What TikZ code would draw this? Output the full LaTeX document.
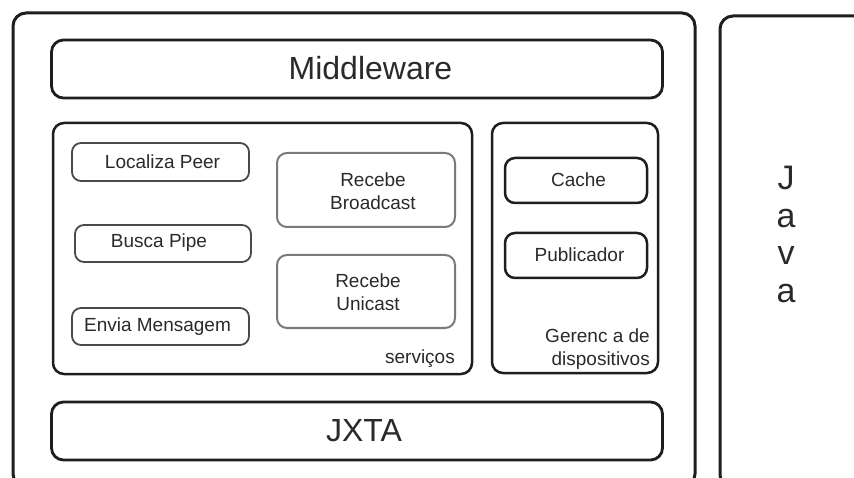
\documentclass[tikz,border=0pt]{standalone}
\usepackage{fontspec}
\setmainfont{Liberation Sans}
\definecolor{ink}{HTML}{1E1E1E}
\definecolor{txt}{HTML}{2A2A2A}
\definecolor{soft}{HTML}{7A7A7A}
\definecolor{mid}{HTML}{4A4A4A}
\begin{document}
\begin{tikzpicture}[x=1pt,y=-1pt,
  frame/.style={draw=ink, line width=3pt, rounded corners=13pt, rectangle, inner sep=0pt},
  layer/.style={draw=ink, line width=2.8pt, rounded corners=12pt, rectangle, inner sep=0pt},
  group/.style={draw=ink, line width=2.5pt, rounded corners=11pt, rectangle, inner sep=0pt},
  svc/.style={draw=mid, line width=1.8pt, rounded corners=9pt, rectangle, inner sep=0pt},
  recv/.style={draw=soft, line width=2pt, rounded corners=10pt, rectangle, inner sep=0pt},
  dev/.style={draw=ink, line width=2.5pt, rounded corners=10pt, rectangle, inner sep=0pt},
  big/.style={text=txt, font=\fontsize{32}{36}\selectfont, inner sep=0pt},
  small/.style={text=txt, font=\fontsize{19}{23}\selectfont, inner sep=0pt, align=center},
  jv/.style={text=txt, font=\fontsize{34}{38}\selectfont, inner sep=0pt, anchor=base}]
\useasboundingbox (0,0) rectangle (854,478);
\clip (0,0) rectangle (854,478);
\fill[white] (0,0) rectangle (854,478);
% outer frames
\node[frame, minimum width=682pt, minimum height=474pt] (outer) at (354,250) {};
\node[frame, minimum width=170pt, minimum height=472pt] (javabox) at (805,252) {};
% layers
\node[layer, minimum width=611pt, minimum height=58pt] (mw) at (357,69) {};
\node[big] (mwt) at (370.5,68) {Middleware};
\node[layer, minimum width=611pt, minimum height=58pt] (jx) at (357,431) {};
\node[big] (jxt) at (364,431) {JXTA};
% groups
\node[group, minimum width=419pt, minimum height=251pt] (serv) at (262.5,248.5) {};
\node[group, minimum width=166pt, minimum height=250pt] (ger) at (575,248) {};
% service boxes
\node[svc, minimum width=177pt, minimum height=38pt] (loc) at (160.5,162) {};
\node[small] (loct) at (162.5,162) {Localiza Peer};
\node[svc, minimum width=176pt, minimum height=37pt] (bus) at (163,243.5) {};
\node[small] (bust) at (159,243) {Busca Pipe};
\node[svc, minimum width=177pt, minimum height=37pt] (env) at (160.5,326.5) {};
\node[small] (envt) at (157.5,327) {Envia Mensagem};
\node[recv, minimum width=178pt, minimum height=74pt] (bro) at (366,190) {};
\node[small] (brot) at (373,191.5) {Recebe\\Broadcast};
\node[recv, minimum width=178pt, minimum height=73pt] (uni) at (366,291.5) {};
\node[small] (unit) at (368,292.5) {Recebe\\Unicast};
% device boxes
\node[dev, minimum width=142pt, minimum height=45pt] (cac) at (576,180.5) {};
\node[small] (cact) at (578.5,180) {Cache};
\node[dev, minimum width=142pt, minimum height=45pt] (pub) at (576,255.5) {};
\node[small] (pubt) at (579.5,255) {Publicador};
% group labels
\node[small, anchor=base east] (servt) at (455,363) {serviços};
\node[small, anchor=base east] (gert1) at (650,342) {Gerenc a de};
\node[small, anchor=base east] (gert2) at (650,365) {dispositivos};
% Java
\node[jv] (j1) at (786,190) {J};
\node[jv] (j2) at (786,228) {a};
\node[jv] (j3) at (786,265) {v};
\node[jv] (j4) at (786,303) {a};
\end{tikzpicture}
\end{document}
